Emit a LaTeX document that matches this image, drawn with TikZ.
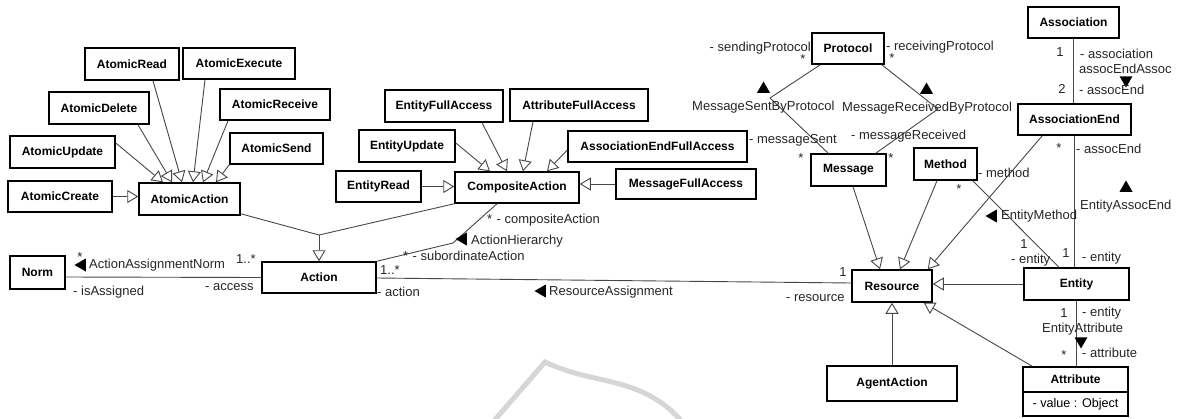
\documentclass[tikz,border=0pt]{standalone}
\usepackage{fontspec}
\setmainfont{Liberation Sans}
\usetikzlibrary{arrows.meta,shapes.geometric}

\begin{document}
\begin{tikzpicture}[x=1pt,y=-1pt,
  cls/.style n args={2}{draw=black, line width=1.5pt, fill=white,
    minimum width=#1pt, minimum height=#2pt, inner sep=0pt,
    font=\bfseries\fontsize{12}{14}\selectfont},
  conn/.style={draw=black!72, line width=0.9pt},
  gen/.style={conn, -{Triangle[open,length=11pt,width=13pt]}},
  lbl/.style={font=\fontsize{13}{15}\selectfont, text=black!85, inner sep=0pt, anchor=west},
  lblc/.style={lbl, anchor=center},
  lble/.style={lbl, anchor=east},
  navtri/.style={regular polygon, regular polygon sides=3, fill=black, draw=none,
    inner sep=0pt, minimum size=15pt, shape border rotate=#1},
]
\fill[white] (0,0) rectangle (1177,418);
\useasboundingbox (0,0) rectangle (1177,418);

% faint background stroke
\draw[gray!32, line width=5pt] (493,422) -- (545,362)
  .. controls (575,376) and (600,378) .. (623,385)
  .. controls (650,393) and (668,405) .. (682,422);

% ---------- classes ----------
\node[cls={94}{32}]  (AtomicRead)    at (132,64)    {AtomicRead};
\node[cls={112}{31}] (AtomicExecute) at (239,63.5)  {AtomicExecute};
\node[cls={100}{32}] (AtomicDelete)  at (99,108)    {AtomicDelete};
\node[cls={110}{31}] (AtomicReceive) at (275,104.5) {AtomicReceive};
\node[cls={105}{32}] (AtomicUpdate)  at (62.5,152)  {AtomicUpdate};
\node[cls={93}{31}]  (AtomicSend)    at (276.5,148.5) {AtomicSend};
\node[cls={104}{31}] (AtomicCreate)  at (60,196.5)  {AtomicCreate};
\node[cls={101}{32}] (AtomicAction)  at (189.5,199) {AtomicAction};

\node[cls={118}{32}] (EntityFullAccess)    at (444,106)   {EntityFullAccess};
\node[cls={138}{32}] (AttributeFullAccess) at (579,105)   {AttributeFullAccess};
\node[cls={96}{32}]  (EntityUpdate)        at (407,146)   {EntityUpdate};
\node[cls={179}{31}] (AssocEndFullAccess)  at (657.5,146.5) {AssociationEndFullAccess};
\node[cls={85}{31}]  (EntityRead)          at (378.5,186.5) {EntityRead};
\node[cls={124}{31}] (CompositeAction)     at (517,187.5) {CompositeAction};
\node[cls={140}{30}] (MessageFullAccess)   at (686,184)   {MessageFullAccess};

\node[cls={55}{33}]  (Norm)   at (37.5,272.5) {Norm};
\node[cls={114}{31}] (Action) at (319,277.5)  {Action};

\node[cls={72}{31}]  (Protocol)       at (848,48.5)    {Protocol};
\node[cls={75}{32}]  (Message)        at (848.5,170)   {Message};
\node[cls={63}{32}]  (Method)         at (945.5,164)   {Method};
\node[cls={91}{31}]  (Association)    at (1073.5,22.5) {Association};
\node[cls={113}{31}] (AssociationEnd) at (1074.5,119.5) {AssociationEnd};
\node[cls={80}{32}]  (Resource)       at (892,286)     {Resource};
\node[cls={105}{32}] (Entity)         at (1076.5,284)  {Entity};
\node[cls={130}{35}] (AgentAction)    at (892,383.5)   {AgentAction};
\node[cls={105}{25}] (Attribute)      at (1075.5,379.5) {Attribute};
\node[cls={105}{24}, font=\fontsize{12.6}{14}\selectfont] (AttributeValue) at (1075.5,404) {- value : Object};

% ---------- generalizations ----------
\draw[gen] ([yshift=9pt]AtomicUpdate.east)   -- ([xshift=-26.5pt]AtomicAction.north);
\draw[gen] ([xshift=39pt]AtomicDelete.south) -- ([xshift=-17.5pt]AtomicAction.north);
\draw[gen] ([xshift=21pt]AtomicRead.south)   -- ([xshift=-7.5pt]AtomicAction.north);
\draw[gen] ([xshift=-34pt]AtomicExecute.south) -- ([xshift=3.5pt]AtomicAction.north);
\draw[gen] ([xshift=-47pt]AtomicReceive.south) -- ([xshift=13.5pt]AtomicAction.north);
\draw[gen] (AtomicSend.south west) -- ([xshift=26.5pt]AtomicAction.north);
\draw[gen] (AtomicCreate.east) -- (AtomicCreate.east -| AtomicAction.west);

\draw[gen] ([yshift=3pt]EntityUpdate.east)     -- ([xshift=-27pt]CompositeAction.north);
\draw[gen] ([xshift=38pt]EntityFullAccess.south) -- ([xshift=-10pt]CompositeAction.north);
\draw[gen] ([xshift=-46pt]AttributeFullAccess.south) -- ([xshift=6pt]CompositeAction.north);
\draw[gen] ([yshift=-3.5pt]AssocEndFullAccess.west) -- ([xshift=30pt]CompositeAction.north);
\draw[gen] (EntityRead.east) -- (EntityRead.east -| CompositeAction.west);
\draw[gen] (MessageFullAccess.west) -- (MessageFullAccess.west -| CompositeAction.east);

\coordinate (genjoin) at (319,235);
\draw[conn] ([yshift=2pt]AtomicAction.south east) -- (genjoin) -- (CompositeAction.south west);
\draw[gen] (genjoin) -- (Action.north);

\draw[gen] ([xshift=4.5pt]Message.south) -- ([xshift=-12pt]Resource.north);
\draw[gen] ([xshift=-8.5pt]Method.south) -- ([xshift=8pt]Resource.north);
\draw[gen] ([xshift=25pt]AssociationEnd.south west) -- ([xshift=-5pt]Resource.north east);
\draw[gen] (Entity.west) -- (Entity.west -| Resource.east);
\draw[gen] (AgentAction.north) -- (Resource.south);
\draw[gen] ([xshift=10pt]Attribute.north west) -- ([xshift=-9pt]Resource.south east);

% ---------- associations ----------
\coordinate (hierbend) at (453,243);
\draw[conn] ([xshift=-20pt]CompositeAction.south) -- (hierbend) -- (Action.north east);
\draw[conn] ([yshift=-4.5pt]Norm.east) -- (Action.west);
\draw[conn] ([yshift=-0.5pt]Action.east) -- ([yshift=3pt]Resource.west);

\coordinate (sentbend) at (770,98);
\coordinate (recvbend) at (938,109);
\draw[conn] ([xshift=9pt]Protocol.south west) -- (sentbend) -- ([xshift=18pt]Message.north west);
\draw[conn] ([xshift=-3pt]Protocol.south east) -- (recvbend) -- ([xshift=-11pt]Message.north east);

\draw[conn] (Association.south) -- (Association.south |- AssociationEnd.north);
\draw[conn] (AssociationEnd.south) -- (AssociationEnd.south |- Entity.north);
\draw[conn] (Entity.south) -- (Entity.south |- Attribute.north);
\draw[conn] ([xshift=-5pt]Method.south east) -- ([xshift=-17.5pt]Entity.north);

% ---------- association labels ----------
% Norm -- Action
\node[lblc] (nStar) at (80,257) {*};
\node[navtri=90] (nTri) at (82,265) {};
\node[lbl] (nName)  at (89,265) {ActionAssignmentNorm};
\node[lbl] (nMult)  at (236,259) {1..*};
\node[lbl] (nRoleA) at (73,292) {- isAssigned};
\node[lbl] (nRoleB) at (205,287) {- access};

% Action -- Resource
\node[lbl] (rMultA) at (380,270) {1..*};
\node[lbl] (rRoleA) at (377,292) {- action};
\node[navtri=90] (rTri) at (542,291) {};
\node[lbl] (rName)  at (549,292) {ResourceAssignment};
\node[lblc] (rMultB) at (843,272) {1};
\node[lbl] (rRoleB) at (786,298) {- resource};

% ActionHierarchy
\node[lbl] (hRoleA) at (487,220) {*\,\,- compositeAction};
\node[navtri=90] (hTri) at (463,239) {};
\node[lbl] (hName)  at (471,241) {ActionHierarchy};
\node[lbl] (hRoleB) at (403,256) {*\,\,- subordinateAction};

% Protocol -- Message (sent)
\node[lble] (sRoleA) at (811,48) {- sendingProtocol};
\node[lblc] (sMultA) at (803,59) {*};
\node[navtri=0] (sTri) at (763.5,89) {};
\node[lbl] (sName)  at (692,107) {MessageSentByProtocol};
\node[lbl] (sRoleB) at (749,140) {- messageSent};
\node[lblc] (sMultB) at (801,158) {*};

% Protocol -- Message (received)
\node[lbl] (vRoleA) at (886,47) {- receivingProtocol};
\node[lblc] (vMultA) at (892,58) {*};
\node[navtri=0] (vTri) at (926.5,90) {};
\node[lbl] (vName)  at (842,108) {MessageReceivedByProtocol};
\node[lbl] (vRoleB) at (851,136) {- messageReceived};
\node[lblc] (vMultB) at (891,158) {*};

% Association -- AssociationEnd
\node[lblc] (aMultA) at (1060,52) {1};
\node[lbl] (aRoleA) at (1080,54) {- association};
\node[lbl] (aName)  at (1079,69) {assocEndAssoc};
\node[navtri=180] (aTri) at (1126,80) {};
\node[lblc] (aMultB) at (1062,89) {2};
\node[lbl] (aRoleB) at (1079,90) {- assocEnd};

% AssociationEnd -- Entity
\node[lblc] (eMultA) at (1059,148) {*};
\node[lbl] (eRoleA) at (1076,149) {- assocEnd};
\node[navtri=0] (eTri) at (1126,188) {};
\node[lbl] (eName)  at (1080,206) {EntityAssocEnd};
\node[lblc] (eMultB) at (1066,253) {1};
\node[lbl] (eRoleB) at (1082,258) {- entity};

% Method -- Entity
\node[lbl] (mRoleA) at (978,173) {- method};
\node[lblc] (mMultA) at (959,189) {*};
\node[navtri=90] (mTri) at (993,216) {};
\node[lbl] (mName)  at (1001,216) {EntityMethod};
\node[lblc] (mMultB) at (1024,244) {1};
\node[lbl] (mRoleB) at (1011,260) {- entity};

% Entity -- Attribute
\node[lblc] (tMultA) at (1064,313) {1};
\node[lbl] (tRoleA) at (1082,313) {- entity};
\node[lbl] (tName)  at (1042,329) {EntityAttribute};
\node[navtri=180] (tTri) at (1081,341) {};
\node[lblc] (tMultB) at (1064,355) {*};
\node[lbl] (tRoleB) at (1082,353) {- attribute};
\end{tikzpicture}
\end{document}
